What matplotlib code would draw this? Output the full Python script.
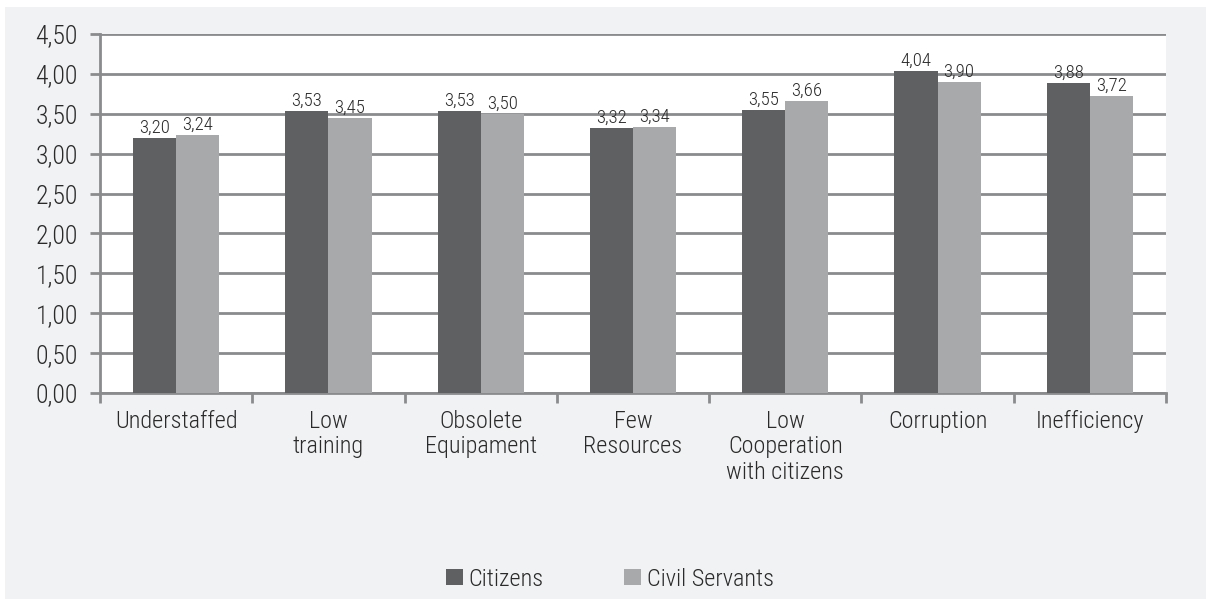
import matplotlib.pyplot as plt
from matplotlib.patches import Rectangle
import numpy as np

plt.rcParams['font.family'] = ['Roboto Condensed', 'DejaVu Sans']
plt.rcParams['font.weight'] = 'light'

categories = ['Understaffed', 'Low\ntraining', 'Obsolete\nEquipament', 'Few\nResources',
              'Low\nCooperation\nwith citizens', 'Corruption', 'Inefficiency']
citizens = [3.20, 3.53, 3.53, 3.32, 3.55, 4.04, 3.88]
civil_servants = [3.24, 3.45, 3.50, 3.34, 3.66, 3.90, 3.72]
yticks = [0, 0.5, 1.0, 1.5, 2.0, 2.5, 3.0, 3.5, 4.0, 4.5]

dark = '#5f6062'
light = '#a7a9aa'
grid_c = '#8a8b8c'
bg = '#f1f2f4'
txt = '#2a2a2a'

fig = plt.figure(figsize=(12.06, 5.99), dpi=100)
fig.patch.set_facecolor('white')
# grey panel behind the chart
fig.patches.append(Rectangle((5 / 1206, 0), 1, 1 - 7 / 599,
                             transform=fig.transFigure, facecolor=bg, edgecolor='none', zorder=-1))

ax = fig.add_axes([100 / 1206, 1 - 393 / 599, 1066 / 1206, 359 / 599])
ax.set_facecolor('white')

x = np.arange(len(categories))
w = 0.283
b1 = ax.bar(x - w / 2, citizens, w, color=dark, zorder=3, label='Citizens')
b2 = ax.bar(x + w / 2, civil_servants, w, color=light, zorder=3, label='Civil Servants')

for bars, vals in ((b1, citizens), (b2, civil_servants)):
    for r, v in zip(bars, vals):
        ax.text(r.get_x() + r.get_width() / 2, v + 0.015, ('%.2f' % v).replace('.', ','),
                ha='center', va='bottom', fontsize=13.5, color=txt, zorder=4)

ax.set_xlim(-0.5, len(categories) - 0.5)
ax.set_ylim(0, 4.5)
ax.set_yticks(yticks)
ax.set_yticklabels([('%.2f' % t).replace('.', ',') for t in yticks], fontsize=18.5, color=txt)
ax.yaxis.grid(True, color=grid_c, linewidth=2, zorder=0)
ax.set_axisbelow(True)

ax.set_xticks(x)
ax.set_xticklabels(categories, fontsize=17.5, color=txt, linespacing=1.15)
ax.tick_params(axis='x', length=0, pad=12)
ax.set_xticks(np.arange(len(categories) + 1) - 0.5, minor=True)
ax.tick_params(axis='x', which='minor', length=7, width=2, color=grid_c, direction='out')
ax.tick_params(axis='y', length=7, width=2, color=grid_c, direction='out', pad=9)

for s in ['top', 'right']:
    ax.spines[s].set_visible(False)
ax.spines['left'].set_color(grid_c)
ax.spines['left'].set_linewidth(2)
ax.spines['bottom'].set_color(grid_c)
ax.spines['bottom'].set_linewidth(2)

leg = fig.legend(handles=[b1, b2], labels=['Citizens', 'Civil Servants'], loc='center',
                 bbox_to_anchor=(610 / 1206, 1 - 579 / 599), ncol=2, frameon=False,
                 fontsize=17.5, handlelength=0.68, handleheight=0.68, handletextpad=0.25,
                 columnspacing=3.3)
for t in leg.get_texts():
    t.set_color(txt)

fig.savefig('out.png', dpi=100, facecolor=fig.get_facecolor())
